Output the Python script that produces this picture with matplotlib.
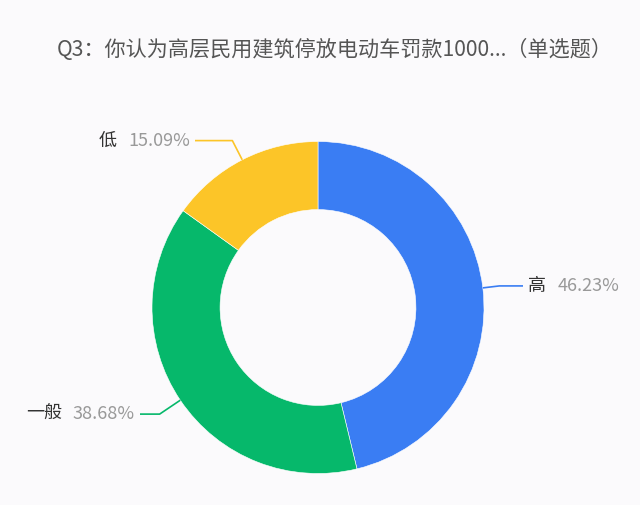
import numpy as np
import matplotlib
matplotlib.use("Agg")
import matplotlib.pyplot as plt

plt.rcParams["font.family"] = ["Noto Sans CJK SC", "DejaVu Sans"]

TITLE = "Q3：你认为高层民用建筑停放电动车罚款1000...（单选题）"
labels = ["高", "一般", "低"]
shares = [46.23, 38.68, 15.09]
colors = ["#3a7df3", "#06b86b", "#fcc528"]

W, H = 640, 505
CX, CY, R = 318, 307.5, 166  # centre / radius in pixels


def px(x, y):
    # pixel position -> data units (radius of pie = 1)
    return (x - CX) / R, (CY - y) / R


fig = plt.figure(figsize=(W / 100, H / 100), dpi=100)
fig.patch.set_facecolor("#fbfafc")
ax = fig.add_axes([0, 0, 1, 1])

wedges, _ = ax.pie(shares, colors=colors, startangle=90, counterclock=False,
                   radius=1.0, wedgeprops=dict(width=0.41, edgecolor="white", linewidth=0.4))
ax.set_xlim(-CX / R, (W - CX) / R)
ax.set_ylim(-(H - CY) / R, CY / R)
ax.axis("off")

# label layout: (line end x px, label y px, side)
layout = [(523, 287, "right"), (140, 413, "left"), (195, 141, "left")]
ext = [1.10, 1.15, 1.13]
fs = 13

for w, name, val, (lx, ly, side), e in zip(wedges, labels, shares, layout, ext):
    ang = np.deg2rad((w.theta1 + w.theta2) / 2)
    sx, sy = np.cos(ang), np.sin(ang)
    ex, ey = e * sx, e * sy
    endx, _ = px(lx, ly)
    ax.plot([sx, ex, endx], [sy, ey, ey], color=w.get_facecolor(), lw=1.2,
            solid_capstyle="butt")
    pct = f"{val:.2f}%"
    if side == "right":
        tx, _ = px(lx + 5, ly)
        ax.text(tx, ey, name, ha="left", va="center", fontsize=fs, color="#333333",
                fontweight="light")
        tx2, _ = px(lx + 35, ly)
        ax.text(tx2, ey, pct, ha="left", va="center", fontsize=fs, color="#999999",
                fontweight="light")
    else:
        tx, _ = px(lx - 5, ly)
        ax.text(tx, ey, pct, ha="right", va="center", fontsize=fs, color="#999999",
                fontweight="light")
        # name sits left of the percentage
        tx2, _ = px(lx - 5 - 73, ly)
        ax.text(tx2, ey, name, ha="right", va="center", fontsize=fs, color="#333333",
                fontweight="light")

tx, ty = px(335, 50)
ax.text(tx, ty, TITLE, ha="center", va="center", fontsize=15.2, color="#555555",
        fontweight="light")

fig.savefig("out.png", dpi=100, facecolor=fig.get_facecolor())
